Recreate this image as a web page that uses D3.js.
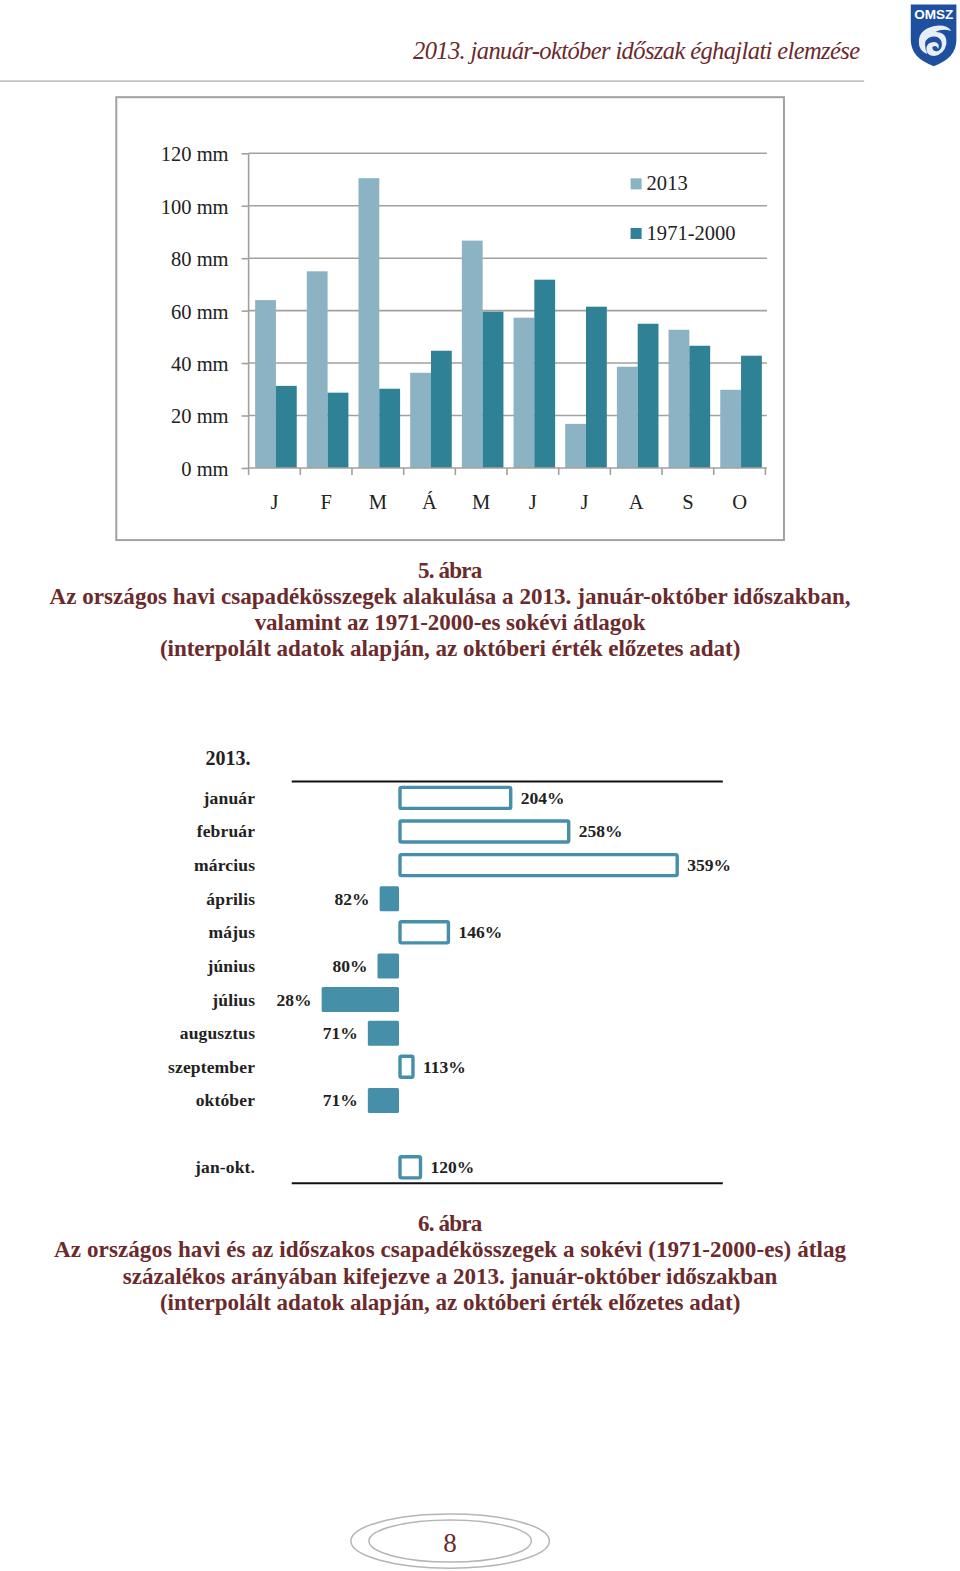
<!DOCTYPE html>
<html><head><meta charset="utf-8">
<script src="https://cdn.jsdelivr.net/npm/d3@7"></script>
<style>html,body{margin:0;padding:0;background:#fff}svg{display:block}text{font-family:"Liberation Serif",serif}</style>
</head><body><div id="c"></div>
<script>
const months = ["J","F","M","Á","M","J","J","A","S","O"];
const precip2013 = [64,75,110.5,36.3,86.7,57.3,16.8,38.6,52.7,29.8];
const precipNormal = [31.3,28.7,30.2,44.7,59.6,71.8,61.5,55,46.6,42.8];
const yTicks = [0,20,40,60,80,100,120];
const seriesNames = ["2013","1971-2000"];
const monthNames = ["január","február","március","április","május","június","július","augusztus","szeptember","október"];
const monthPct = [204,258,359,82,146,80,28,71,113,71];
const periodName = ["jan-okt."];
const periodPct = [120];
const caption5 = ["5. ábra","Az országos havi csapadékösszegek alakulása a 2013. január-október időszakban,","valamint az 1971-2000-es sokévi átlagok","(interpolált adatok alapján, az októberi érték előzetes adat)"];
const caption6 = ["6. ábra","Az országos havi és az időszakos csapadékösszegek a sokévi (1971-2000-es) átlag","százalékos arányában kifejezve a 2013. január-október időszakban","(interpolált adatok alapján, az októberi érték előzetes adat)"];
const header = "2013. január-október időszak éghajlati elemzése";

const maroon="#6b2a2c", teal="#2f8196", light="#8cb3c3", barTeal="#458fa8", grey="#a3a19e", ink="#222";
const root=d3.select("#c").append("svg").attr("width",960).attr("height",1571);
const svg=root.append("g").attr("transform","scale(1.0025,1.002)");

function label(g,t,x,y,size,opt={}){
  const s=g.append("text").attr("x",x).attr("y",y).attr("font-size",size).attr("fill",opt.fill||ink)
    .attr("text-anchor",opt.anchor||"start").attr("font-weight",opt.bold?700:400).attr("font-style",opt.italic?"italic":"normal").text(t);
  if(opt.w) s.attr("textLength",opt.w).attr("lengthAdjust","spacing");
  return s;
}
// header
label(svg,header,412,59,24.5,{fill:maroon,italic:true,w:446});
svg.append("line").attr("x1",0).attr("x2",862).attr("y1",81).attr("y2",81).attr("stroke","#aaa").attr("stroke-width",1.2);
// logo
const logo=svg.append("g");
logo.append("path").attr("d","M908.5 4.5H954V40Q954 58 931.5 66Q908.5 58 908.5 40Z").attr("fill","#1f4f9f");
label(logo,"OMSZ",931.5,19,13.5,{fill:"#fff",anchor:"middle",bold:true}).style("font-family","'Liberation Sans'");
logo.append("path").attr("d","M917 46Q914 30 932 26Q944 24 949 31Q940 28 933 32Q945 32 944 44Q942 54 932 56Q924 56 924 48Q925 42 932 42Q938 43 936 49Q934 44 930 47Q930 52 936 51Q941 48 939 41Q935 34 926 38Q920 42 925 54Q919 52 917 46Z").attr("fill","#e8eef6");
// frame
svg.append("rect").attr("x",116).attr("y",97).attr("width",666).attr("height",442).attr("fill","none").attr("stroke",grey).attr("stroke-width",2);

// chart 1
const x0=d3.scaleBand().domain(d3.range(months.length)).range([248,763.5]);
const y=d3.scaleLinear().domain([0,120]).range([467,153]);
const xs=d3.scaleBand().domain([0,1]).range([6.5,48]);
const ya=svg.append("g").attr("transform","translate(248,0)").call(d3.axisLeft(y).tickValues(yTicks).tickSize(7).tickPadding(13).tickFormat(d=>d+" mm"));
ya.select(".domain").attr("stroke",grey).attr("stroke-width",1.6).attr("d","M0,153V467");
ya.selectAll("line").attr("stroke",grey).attr("stroke-width",1.6);
ya.selectAll("text").attr("font-size",20.5).attr("fill",ink).attr("y",0.8).style("font-family","'Liberation Serif',serif");
svg.append("g").selectAll("line").data(yTicks.filter(d=>d>0)).join("line")
  .attr("x1",248).attr("x2",765).attr("y1",d=>y(d)).attr("y2",d=>y(d)).attr("stroke",grey).attr("stroke-width",1.6);
[precip2013,precipNormal].forEach((vals,k)=>{
  svg.append("g").selectAll("rect").data(vals).join("rect")
    .attr("x",(d,i)=>x0(i)+xs(k)).attr("width",xs.bandwidth())
    .attr("y",d=>y(d)).attr("height",d=>y(0)-y(d)).attr("fill",k?teal:light);
});
const xa=svg.append("g").attr("transform","translate(0,467)").call(d3.axisBottom(x0).tickSize(0).tickPadding(0).tickFormat(i=>months[i]));
xa.select(".domain").attr("stroke",grey).attr("stroke-width",1.6).attr("d","M248,0H765");
xa.selectAll("text").attr("font-size",20.5).attr("fill",ink).style("font-family","'Liberation Serif',serif").attr("dy",0).attr("y",41);
svg.append("g").selectAll("line").data(d3.range(months.length+1)).join("line")
  .attr("x1",i=>248+x0.step()*i).attr("x2",i=>248+x0.step()*i).attr("y1",467).attr("y2",474).attr("stroke",grey).attr("stroke-width",1.6);
// legend
const lg=svg.append("g");
seriesNames.forEach((n,i)=>{
  lg.append("rect").attr("x",629).attr("y",178+i*49.5).attr("width",11).attr("height",11).attr("fill",i?teal:light);
  label(lg,n,645,190+i*49.5,20.5);
});
function caption(lines,y0){
  const wd=[64,799,390,579];
  const wd2=[64,790,653,579];
  lines.forEach((t,i)=>label(svg,t,449,y0+i*26,23,{fill:maroon,anchor:"middle",bold:true,w:(lines===caption5?wd:wd2)[i]}));
}
caption(caption5,577);
caption(caption6,1229);

// chart 2
label(svg,"2013.",205,763,20,{bold:true});
const xp=d3.scaleLinear().domain([100,359]).range([398,675.5]);
const yr=d3.scaleBand().domain(monthNames).range([779.5,1115]);
const rows=monthNames.map((n,i)=>({n,v:monthPct[i],c:yr(n)+yr.bandwidth()/2}));
rows.push({n:periodName[0],v:periodPct[0],c:1165});
[780,1181].forEach(v=>svg.append("line").attr("x1",291).attr("x2",721).attr("y1",v).attr("y2",v).attr("stroke","#111").attr("stroke-width",2));
const gr=svg.append("g");
const rowsG=gr.selectAll("g").data(rows).join("g");
rowsG.append("rect")
  .attr("x",d=>d.v>=100?xp(100)+1:xp(d.v)).attr("width",d=>d.v>=100?xp(d.v)-xp(100)-1:xp(100)-xp(d.v))
  .attr("y",d=>d.v>=100?d.c-10.5:d.c-12.5).attr("height",d=>d.v>=100?21:25).attr("rx",1.5)
  .attr("fill",d=>d.v>=100?"#fff":barTeal).attr("stroke",d=>d.v>=100?barTeal:"none").attr("stroke-width",3.4);
rowsG.append("text").attr("x",254.5).attr("y",d=>d.c+6).attr("text-anchor","end").attr("font-size",17.5).attr("font-weight",700).attr("fill",ink).attr("letter-spacing",.15).text(d=>d.n);
rowsG.append("text").attr("x",d=>d.v>=100?xp(d.v)+10:xp(d.v)-10).attr("y",d=>d.c+6).attr("text-anchor",d=>d.v>=100?"start":"end").attr("font-size",17.5).attr("font-weight",700).attr("fill",ink).text(d=>d.v+"%");

// page number
svg.append("ellipse").attr("cx",449).attr("cy",1538).attr("rx",99).attr("ry",27).attr("fill","none").attr("stroke","#b5b5b5").attr("stroke-width",1.5);
svg.append("ellipse").attr("cx",449).attr("cy",1538).attr("rx",81).attr("ry",21).attr("fill","none").attr("stroke","#b5b5b5").attr("stroke-width",1.5);
label(svg,"8",449,1549,27,{fill:maroon,anchor:"middle"});
</script></body></html>
